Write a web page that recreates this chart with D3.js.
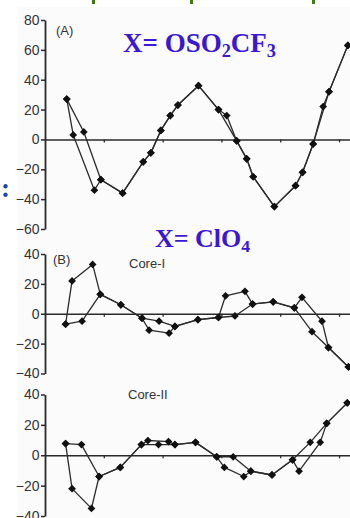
<!DOCTYPE html>
<html>
<head>
<meta charset="utf-8">
<script src="https://cdn.jsdelivr.net/npm/d3@7"></script>
<style>
  html, body { margin: 0; padding: 0; background: #fff; }
  svg { display: block; }
</style>
</head>
<body>
<svg id="chart" width="350" height="518"></svg>
<script>
// ---- Data -------------------------------------------------------------
// Each panel holds two scans [x, signal]; they share most points and
// split apart where the trace forms a loop.

// (A) X = OSO2CF3
const aTicks = [80, 60, 40, 20, 0, -20, -40, -60];
const aScan1 = [[0.37,27],[0.48,3],[0.84,-34],[0.95,-27],[1.32,-36],[1.67,-15],[1.80,-9],[1.97,6],
  [2.13,16],[2.26,23],[2.61,36],[2.95,20],[3.09,16],[3.26,-1],[3.43,-13],[3.54,-25],[3.90,-45],
  [4.26,-31],[4.38,-22],[4.56,-3],[4.73,22],[4.83,32],[5.15,63]];
const aScan2 = [[0.37,27],[0.66,5],[0.95,-27],[1.32,-36],[1.67,-15],[1.80,-9],[1.97,6],
  [2.13,16],[2.26,23],[2.61,36],[2.95,20],[3.26,-1],[3.43,-13],[3.54,-25],[3.90,-45],
  [4.26,-31],[4.38,-22],[4.56,-3],[4.83,32],[5.15,63]];

// (B) X = ClO4, Core-I
const bTicks = [40, 20, 0, -20, -40];
const bScan1 = [[0.35,-7],[0.46,22],[0.81,33],[0.94,13],[1.29,6],[1.65,-3],[1.77,-11],[2.11,-13],
  [2.21,-8.5],[2.60,-4],[2.95,-2.5],[3.07,12],[3.40,15],[3.53,6.5],[3.88,8],[4.24,4],[4.37,11],
  [4.71,-5],[4.82,-22.6],[5.16,-35.6]];
const bScan2 = [[0.35,-7],[0.63,-5],[0.94,13],[1.29,6],[1.65,-3],[1.94,-5],[2.21,-8.5],[2.60,-4],
  [2.95,-2.5],[3.23,-1.5],[3.53,6.5],[3.88,8],[4.24,4],[4.54,-12],[4.82,-22.6],[5.16,-35.6]];

// Core-II
const cTicks = [40, 20, 0, -20, -40];
const cScan1 = [[0.35,7.7],[0.46,-22],[0.79,-35],[0.92,-14],[1.28,-8],[1.64,7],[1.75,9.7],[2.10,9],
  [2.21,7],[2.56,8.5],[2.92,-1],[3.05,-8],[3.38,-14],[3.50,-10.5],[3.86,-13],[4.21,-3],[4.32,-10.5],
  [4.68,8.5],[4.79,21],[5.14,34.5]];
const cScan2 = [[0.35,7.7],[0.62,7],[0.92,-14],[1.28,-8],[1.64,7],[1.93,7],[2.21,7],[2.56,8.5],
  [2.92,-1],[3.20,-1],[3.50,-10.5],[3.86,-13],[4.21,-3],[4.51,8.5],[4.79,21],[5.14,34.5]];

const xTicks = [1, 2, 3, 4, 5];

// ---- Drawing ----------------------------------------------------------
const svg = d3.select("#chart");
const W = 350, H = 518;

// page backdrop
svg.append("rect").attr("width", W).attr("height", H).attr("fill", "#ffffff");
svg.append("rect").attr("x", 18).attr("y", 7).attr("width", W - 18).attr("height", H - 7)
  .attr("fill", "#fbfbfb");

// bits of the heading row cut off at the top edge
svg.selectAll("rect.cut").data([92, 190, 312]).join("rect")
  .attr("class", "cut").attr("x", d => d).attr("y", 0)
  .attr("width", 3).attr("height", 4).attr("fill", "#3d7a12");

const x = d3.scaleLinear().domain([0, 5.2]).range([45, 350.8]);

const panels = [
  { ticks: aTicks, domain: [-60, 80], range: [229, 20], scans: [aScan1, aScan2] },
  { ticks: bTicks, domain: [-40, 40], range: [373.5, 254], scans: [bScan1, bScan2] },
  { ticks: cTicks, domain: [-40, 40], range: [516, 394.5], scans: [cScan1, cScan2] }
];

const axisInk = "#2a2a2a";
const textInk = "#333";

panels.forEach(p => {
  const y = d3.scaleLinear().domain(p.domain).range(p.range);
  const g = svg.append("g");

  // vertical axis
  const ya = g.append("g").attr("transform", `translate(${x(0)},0)`)
    .call(d3.axisLeft(y).tickValues(p.ticks).tickSize(4).tickSizeOuter(0).tickPadding(1.5));
  ya.select(".domain").attr("stroke", axisInk).attr("stroke-width", 1.8);
  ya.selectAll(".tick line").attr("stroke", axisInk).attr("stroke-width", 1.5);
  ya.selectAll(".tick text").attr("fill", textInk)
    .style("font-family", "'Liberation Sans', Arial, sans-serif").style("font-size", "14px");

  // zero line with its small ticks
  const xa = g.append("g").attr("transform", `translate(0,${y(0)})`)
    .call(d3.axisBottom(x).tickValues(xTicks).tickSize(3).tickSizeOuter(0).tickFormat(""));
  xa.select(".domain").attr("stroke", axisInk).attr("stroke-width", 1.6);
  xa.selectAll(".tick line").attr("stroke", axisInk).attr("stroke-width", 1.3);
  xa.selectAll(".tick text").remove();

  const line = d3.line().x(d => x(d[0])).y(d => y(d[1]));
  g.selectAll("path.scan").data(p.scans).join("path")
    .attr("class", "scan").attr("d", line)
    .attr("fill", "none").attr("stroke", "#2b2b2b").attr("stroke-width", 1.3)
    .attr("stroke-linejoin", "round");

  const marker = d3.symbol().type(d3.symbolSquare).size(30);
  const pts = p.scans.flat();
  g.selectAll("path.pt").data(pts).join("path")
    .attr("class", "pt").attr("d", marker)
    .attr("transform", d => `translate(${x(d[0])},${y(d[1])}) rotate(45)`)
    .attr("fill", "#111");
});

// ---- Labels -----------------------------------------------------------
const sans = "'Liberation Sans', Arial, sans-serif";
const serif = "'Liberation Serif', 'Times New Roman', serif";
const blue = "#3a17d6";

function small(txt, px, py, size) {
  svg.append("text").attr("x", px).attr("y", py).text(txt)
    .attr("fill", textInk).style("font-family", sans).style("font-size", size + "px");
}
small("(A)", 56, 35, 13);
small("(B)", 53, 264, 13);
small("Core-I", 129, 268, 13);
small("Core-II", 128, 399, 13);

// chemical formula with subscripted digits
function formula(parts, px, py, size) {
  const t = svg.append("text").attr("x", px).attr("y", py)
    .attr("fill", blue).style("font-family", serif).style("font-weight", "bold")
    .style("font-size", size + "px");
  const shift = size * 0.2;
  let lowered = false;
  parts.forEach(([s, sub]) => {
    const ts = t.append("tspan").text(s);
    if (sub && !lowered) { ts.attr("dy", shift); lowered = true; }
    else if (!sub && lowered) { ts.attr("dy", -shift); lowered = false; }
    if (sub) ts.style("font-size", (size * 0.68) + "px");
  });
}
formula([["X= OSO"], ["2", true], ["CF"], ["3", true]], 123, 52, 27);
formula([["X= ClO"], ["4", true]], 155, 247, 26);

// colon left over from a heading at the left edge
svg.append("text").attr("x", 1).attr("y", 197).text(":")
  .attr("fill", "#1d44b0").style("font-family", serif).style("font-weight", "bold")
  .style("font-size", "27px");
</script>
</body>
</html>
